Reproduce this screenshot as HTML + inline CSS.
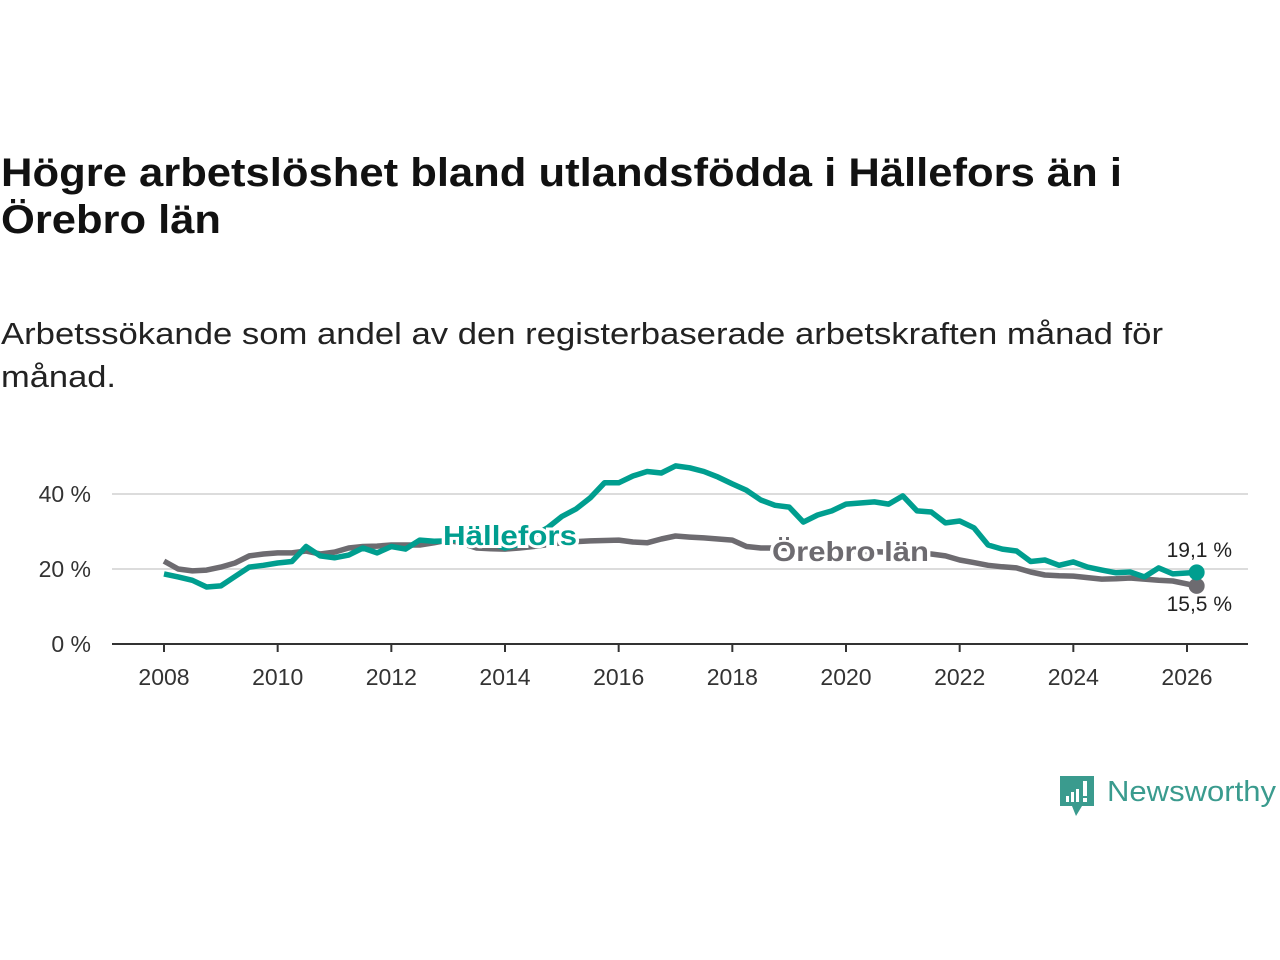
<!DOCTYPE html>
<html><head><meta charset="utf-8"><style>
body{margin:0;background:#fff;}
svg{display:block;font-family:"Liberation Sans",sans-serif;}
</style></head><body>
<svg id="chart" width="1280" height="960" viewBox="0 0 1280 960">
<text x="1" y="186" font-size="40" font-weight="bold" fill="#111" textLength="1121" lengthAdjust="spacingAndGlyphs">Högre arbetslöshet bland utlandsfödda i Hällefors än i</text>
<text x="1" y="233" font-size="40" font-weight="bold" fill="#111" textLength="220" lengthAdjust="spacingAndGlyphs">Örebro län</text>
<text x="1" y="344" font-size="31" fill="#222" textLength="1162" lengthAdjust="spacingAndGlyphs">Arbetssökande som andel av den registerbaserade arbetskraften månad för</text>
<text x="1" y="387" font-size="31" fill="#222" textLength="115" lengthAdjust="spacingAndGlyphs">månad.</text>
<g id="grid"></g>
<g id="axes"></g>
<g id="series"></g>
<g id="labels"></g>
<g>
<path d="M1060 776 h34 v30 h-12 l-6 10 l-4 -10 h-12 z" fill="#3a9b8e"/>
<rect x="1066" y="796" width="3" height="6" fill="#fff"/><rect x="1071" y="792" width="3" height="10" fill="#fff"/><rect x="1076" y="789" width="3" height="13" fill="#fff"/><rect x="1083" y="781" width="4" height="15" fill="#fff"/><rect x="1083" y="798" width="4" height="4" fill="#fff"/>
<text x="1107" y="801" font-size="29" fill="#3a9b8e" textLength="169" lengthAdjust="spacingAndGlyphs">Newsworthy</text>
</g>
</svg>
<script>
const years=[2008,2010,2012,2014,2016,2018,2020,2022,2024,2026];
const yTicks=[0,20,40];
const hTimes=[2008,2008.25,2008.5,2008.75,2009,2009.25,2009.5,2009.75,2010,2010.25,2010.5,2010.75,2011,2011.25,2011.5,2011.75,2012,2012.25,2012.5,2012.75,2013,2013.25,2013.5,2013.75,2014,2014.25,2014.5,2014.75,2015,2015.25,2015.5,2015.75,2016,2016.25,2016.5,2016.75,2017,2017.25,2017.5,2017.75,2018,2018.25,2018.5,2018.75,2019,2019.25,2019.5,2019.75,2020,2020.25,2020.5,2020.75,2021,2021.25,2021.5,2021.75,2022,2022.25,2022.5,2022.75,2023,2023.25,2023.5,2023.75,2024,2024.25,2024.5,2024.75,2025,2025.25,2025.5,2025.75,2026.17];
const hallefors=[18.7,17.9,17,15.2,15.5,18,20.5,21,21.6,22,26,23.5,23,23.7,25.6,24.3,26,25.3,27.7,27.4,27.5,28,28,27,25.6,26.5,28.8,31,34,36,39,43,43,44.8,46,45.6,47.5,47,46,44.5,42.7,41,38.4,37,36.5,32.5,34.4,35.5,37.3,37.6,37.9,37.3,39.5,35.5,35.2,32.3,32.8,31,26.4,25.3,24.8,22,22.4,21,21.9,20.5,19.7,19,19.2,17.9,20.3,18.7,19.1];
const orebro=[22.1,20,19.5,19.7,20.5,21.6,23.5,24,24.3,24.3,24.8,24,24.5,25.6,26,26.1,26.4,26.4,26.4,27,27.7,26.8,25.6,25.4,25.3,25.6,26,26.5,27,27.3,27.5,27.6,27.7,27.2,27,28,28.8,28.5,28.3,28,27.7,26,25.6,25.6,25.4,25.2,25,24.9,24.8,24.7,24.6,24.5,24.3,24.1,24,23.5,22.4,21.7,21,20.6,20.3,19.2,18.4,18.2,18.1,17.7,17.3,17.4,17.6,17.3,17,16.8,15.5];
const NS='http://www.w3.org/2000/svg';
const x=t=>164+(t-2008)*(1187-164)/18;
const y=v=>644-v*3.75;
function el(tag,attrs,parent){const e=document.createElementNS(NS,tag);for(const k in attrs)e.setAttribute(k,attrs[k]);parent.appendChild(e);return e;}
const grid=document.getElementById('grid'),axes=document.getElementById('axes'),series=document.getElementById('series'),labels=document.getElementById('labels');
yTicks.forEach(v=>{
 if(v>0){const g=el('line',{x1:112,x2:1248,y1:y(v),y2:y(v),stroke:'#dcdcdc','stroke-width':2},grid);
 
 }
 const t=el('text',{x:91,y:y(v)+8,'text-anchor':'end','font-size':23,fill:'#333'},axes);t.textContent=v+' %';
 
 
});
const ax=el('line',{x1:112,x2:1248,y1:644,y2:644,stroke:'#333','stroke-width':2},axes);


years.forEach(yr=>{
 el('line',{x1:x(yr),x2:x(yr),y1:644,y2:652,stroke:'#333','stroke-width':2},axes);
 const t=el('text',{x:x(yr),y:685,'text-anchor':'middle','font-size':23,fill:'#333'},axes);t.textContent=yr;
 
 
});
function line(vals,color,name){
 const d=vals.map((v,i)=>(i?'L':'M')+x(hTimes[i]).toFixed(1)+' '+y(v).toFixed(1)).join(' ');
 const p=el('path',{d:d,fill:'none',stroke:color,'stroke-width':5.5,'stroke-linejoin':'round'},series);
 
 
 const n=vals.length-1;
 const c=el('circle',{cx:x(hTimes[n]),cy:y(vals[n]),r:8,fill:color},series);
 
 
}
line(orebro,'#6d6b70','line-orebro');
line(hallefors,'#009e8f','line-hallefors');
function lab(txt,xx,yy,color,size,bold,anchor,name,len){
 const a={x:xx,y:yy,fill:color,'font-size':size,'font-weight':bold?'bold':'normal','text-anchor':anchor||'start',stroke:'#fff','stroke-width':bold?6:4,'paint-order':'stroke'};
 if(len){a.textLength=len;a.lengthAdjust='spacingAndGlyphs';}
 const t=el('text',a,labels);
 t.textContent=txt;
 
 
}
lab('Hällefors',443,545,'#009e8f',28,true,'start','label-hallefors',134);
lab('Örebro län',772,561,'#6d6b70',28,true,'start','label-orebro',157);
lab('19,1 %',1232,557,'#222',21,false,'end','value-hallefors');
lab('15,5 %',1232,611,'#222',21,false,'end','value-orebro');
</script>
</body></html>
